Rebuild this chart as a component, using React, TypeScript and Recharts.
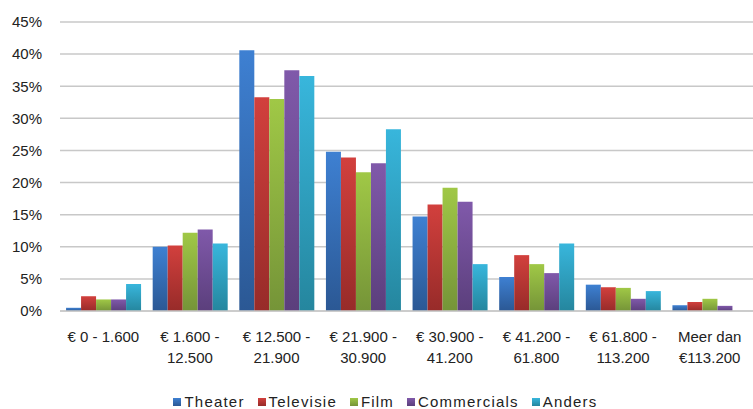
import React from "react";
import { BarChart, Bar, XAxis, YAxis, CartesianGrid } from "recharts";

const categories = [
  "€ 0 - 1.600",
  "€ 1.600 -\n12.500",
  "€ 12.500 -\n21.900",
  "€ 21.900 -\n30.900",
  "€ 30.900 -\n41.200",
  "€ 41.200 -\n61.800",
  "€ 61.800 -\n113.200",
  "Meer dan\n€113.200",
];

const theater = [0.5, 10.0, 40.6, 24.8, 14.7, 5.3, 4.1, 0.9];
const televisie = [2.3, 10.2, 33.3, 23.9, 16.6, 8.7, 3.7, 1.4];
const film = [1.8, 12.2, 33.0, 21.6, 19.2, 7.3, 3.6, 1.9];
const commercials = [1.8, 12.7, 37.5, 23.0, 17.0, 5.9, 1.9, 0.8];
const anders = [4.2, 10.5, 36.6, 28.3, 7.3, 10.5, 3.1, 0];

const yTicks = [0, 5, 10, 15, 20, 25, 30, 35, 40, 45];

const SERIES = [
  { key: "Theater", top: "#3e80d2", bottom: "#2b5894" },
  { key: "Televisie", top: "#d2403d", bottom: "#972b29" },
  { key: "Film", top: "#a0c846", bottom: "#759438" },
  { key: "Commercials", top: "#8059aa", bottom: "#5b3f7c" },
  { key: "Anders", top: "#38b6dc", bottom: "#25869e" },
];

const data = categories.map((name, i) => ({
  name,
  Theater: theater[i],
  Televisie: televisie[i],
  Film: film[i],
  Commercials: commercials[i],
  Anders: anders[i],
}));

const FONT = "'Liberation Sans', Arial, sans-serif";

const CategoryTick = ({ x, y, payload }: any) => {
  const lines = String(payload.value).split("\n");
  return (
    <text
      x={x}
      y={y + 23}
      textAnchor="middle"
      fontFamily={FONT}
      fontSize={15}
      fill="#222"
    >
      {lines.map((line, i) => (
        <tspan key={i} x={x} dy={i === 0 ? 0 : 21}>
          {line}
        </tspan>
      ))}
    </text>
  );
};

// legend drawn as html under the chart, in series order
const ChartLegend = () => (
  <div
    style={{
      position: "absolute",
      left: 0,
      top: 393,
      width: 753,
      paddingLeft: 31,
      boxSizing: "border-box",
      display: "flex",
      justifyContent: "center",
      fontFamily: FONT,
      fontSize: 15,
      letterSpacing: 1.2,
      color: "#222",
      lineHeight: "17px",
    }}
  >
    {SERIES.map((s) => (
      <span key={s.key} style={{ display: "flex", alignItems: "center", marginRight: 13 }}>
        <span
          style={{
            display: "inline-block",
            width: 8,
            height: 8,
            marginRight: 3,
            background: `linear-gradient(${s.top}, ${s.bottom})`,
          }}
        />
        {s.key}
      </span>
    ))}
  </div>
);

export default function App() {
  return (
    <div style={{ position: "absolute", left: 0, top: 0, width: 753, height: 409, background: "#fff" }}>
      <BarChart
        width={753}
        height={409}
        data={data}
        margin={{ top: 22, right: 0, left: 0, bottom: 46 }}
        barCategoryGap="7%"
        barGap={0}
      >
        <defs>
          {SERIES.map((s) => (
            <linearGradient key={s.key} id={`grad-${s.key}`} x1="0" y1="0" x2="0" y2="1">
              <stop offset="0%" stopColor={s.top} />
              <stop offset="100%" stopColor={s.bottom} />
            </linearGradient>
          ))}
        </defs>
        <CartesianGrid vertical={false} stroke="#c8c8c8" strokeWidth={1.5} />
        <XAxis
          dataKey="name"
          tick={<CategoryTick />}
          tickLine={false}
          axisLine={{ stroke: "#c8c8c8", strokeWidth: 1.5 }}
          interval={0}
          height={52}
        />
        <YAxis
          domain={[0, 45]}
          ticks={yTicks}
          tickFormatter={(v: number) => `${v}%`}
          tickLine={false}
          axisLine={false}
          width={60}
          tick={{ fontFamily: FONT, fontSize: 15, fill: "#222", dx: -10 }}
        />
        {SERIES.map((s) => (
          <Bar
            key={s.key}
            dataKey={s.key}
            fill={`url(#grad-${s.key})`}
            isAnimationActive={false}
          />
        ))}
      </BarChart>
      <ChartLegend />
    </div>
  );
}
